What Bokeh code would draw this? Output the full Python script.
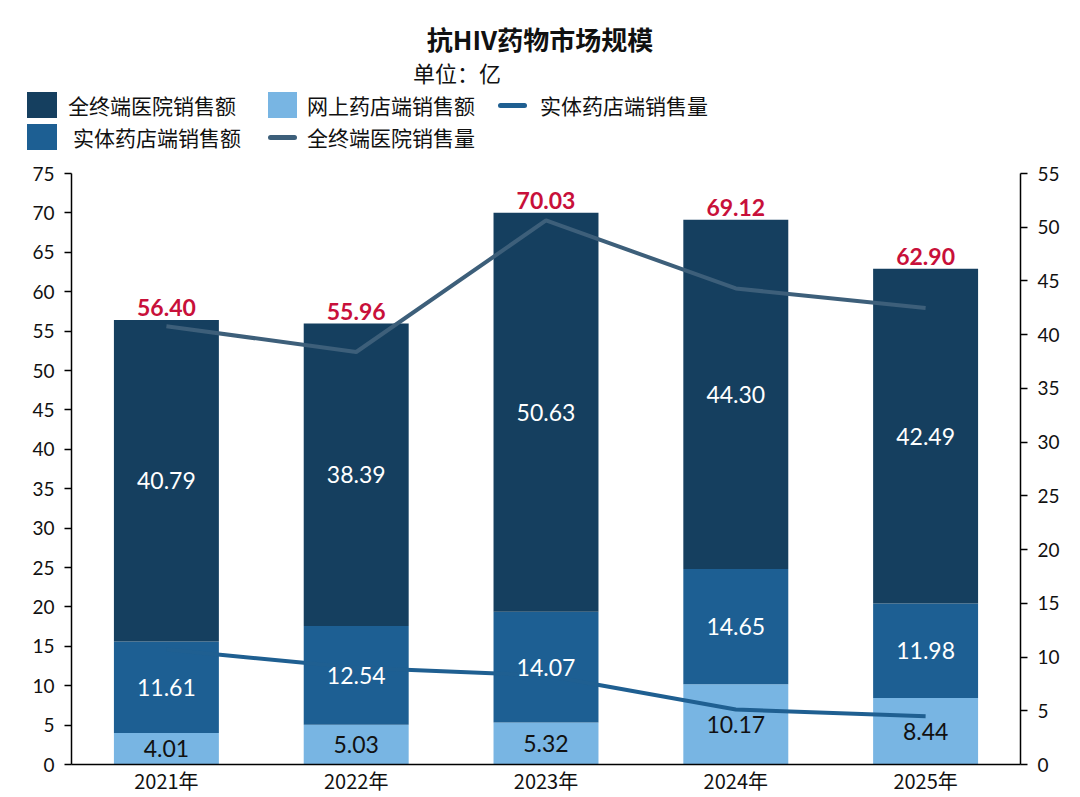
from bokeh.plotting import figure
from bokeh.layouts import column
from bokeh.models import (ColumnDataSource, Range1d, LinearAxis, FixedTicker, LabelSet,
                          FactorRange, Div)
from bokeh.core.properties import value
from bokeh.embed import file_html
from bokeh.resources import INLINE

# ---- data ----
years = ["2021年", "2022年", "2023年", "2024年", "2025年"]
online_sales = [4.01, 5.03, 5.32, 10.17, 8.44]        # 网上药店端销售额
retail_sales = [11.61, 12.54, 14.07, 14.65, 11.98]    # 实体药店端销售额
hospital_sales = [40.79, 38.39, 50.63, 44.30, 42.49]  # 全终端医院销售额
totals = [56.40, 55.96, 70.03, 69.12, 62.90]
retail_volume = [10.70, 9.00, 8.28, 5.12, 4.50]       # 实体药店端销售量 (right axis)
hospital_volume = [40.79, 38.39, 50.63, 44.30, 42.49] # 全终端医院销售量 (right axis)
left_ticks = list(range(0, 80, 5))
right_ticks = list(range(0, 60, 5))
title_text = "抗HIV药物市场规模"
subtitle_text = "单位：亿"
legend_labels = ["全终端医院销售额", "网上药店端销售额", "实体药店端销售量",
                 "实体药店端销售额", "全终端医院销售量"]

C_DARK = "#153F5F"
C_MID = "#1D5F93"
C_LIGHT = "#78B5E3"
C_LINE_RETAIL = "#1F5F91"
C_LINE_HOSP = "#3D5F7A"
C_TOTAL = "#C8103A"
CJK = "Noto Sans CJK SC"
NUM = "Lato"

W = 1080
HEAD_H = 161
MAIN_H = 636

# ---------------- header: titles + legend (HTML) ----------------
# legend layout: (kind, colour, glyph left, glyph right, row centre, text x)
legend_layout = [
    ("box", C_DARK, 27, 57, 105, 68),
    ("box", C_LIGHT, 268, 297, 105, 307),
    ("line", C_LINE_RETAIL, 498, 527, 105, 540),
    ("box", C_MID, 27, 57, 137, 73),
    ("line", C_LINE_HOSP, 268, 297, 137, 307),
]
parts = [
    f'<div style="position:relative;width:{W}px;height:{HEAD_H}px;'
    f"font-family:'{CJK}',sans-serif;color:#111111;\">",
    f'<div style="position:absolute;left:0;top:25px;width:{W}px;text-align:center;'
    f'font-size:26px;line-height:28px;font-weight:bold;white-space:nowrap;">{title_text}</div>',
    f'<div style="position:absolute;left:413px;top:61px;font-size:22px;line-height:23px;'
    f'white-space:nowrap;">{subtitle_text}</div>',
]
for (kind, col, x0, x1, yc, tx), lab in zip(legend_layout, legend_labels):
    if kind == "box":
        parts.append(f'<div style="position:absolute;left:{x0}px;top:{yc - 13}px;'
                     f'width:{x1 - x0}px;height:26px;background:{col};"></div>')
    else:
        parts.append(f'<div style="position:absolute;left:{x0}px;top:{yc - 2.5}px;'
                     f'width:{x1 - x0}px;height:5px;border-radius:2.5px;background:{col};"></div>')
    parts.append(f'<div style="position:absolute;left:{tx}px;top:{yc - 11}px;font-size:21px;'
                 f'line-height:22px;white-space:nowrap;">{lab}</div>')
parts.append("</div>")
head = Div(text="".join(parts), width=W, height=HEAD_H, margin=0)

# ---------------- main chart ----------------
mid_online = [v / 2 for v in online_sales]
mid_retail = [o + r / 2 for o, r in zip(online_sales, retail_sales)]
mid_hosp = [o + r + h / 2 for o, r, h in zip(online_sales, retail_sales, hospital_sales)]
top = [o + r + h for o, r, h in zip(online_sales, retail_sales, hospital_sales)]

src = ColumnDataSource(dict(
    year=years, online=online_sales, retail=retail_sales, hosp=hospital_sales,
    total_txt=[f"{v:.2f}" for v in totals], top=top,
    online_txt=[f"{v:.2f}" for v in online_sales],
    retail_txt=[f"{v:.2f}" for v in retail_sales],
    hosp_txt=[f"{v:.2f}" for v in hospital_sales],
    mid_online=mid_online, mid_retail=mid_retail, mid_hosp=mid_hosp,
    rvol=retail_volume, hvol=hospital_volume,
))

p = figure(x_range=FactorRange(factors=years, range_padding=0),
           y_range=Range1d(0, 75),
           width=W, height=MAIN_H, output_backend="svg", toolbar_location=None,
           min_border_left=71, min_border_right=60, min_border_top=12, min_border_bottom=33)
p.title = None
p.outline_line_color = None
p.xgrid.grid_line_color = None
p.ygrid.grid_line_color = None

p.extra_y_ranges = {"vol": Range1d(0, 55)}

bars = p.vbar_stack(["online", "retail", "hosp"], x="year", width=0.553,
                    color=[C_LIGHT, C_MID, C_DARK], line_color=None, source=src)

p.line(x="year", y="rvol", y_range_name="vol", line_width=4, color=C_LINE_RETAIL, source=src)
p.line(x="year", y="hvol", y_range_name="vol", line_width=4, color=C_LINE_HOSP, source=src)

lbl = dict(source=src, text_align="center", text_baseline="middle",
           text_font=value(NUM), text_font_size="23px")
p.add_layout(LabelSet(x="year", y="mid_online", text="online_txt", text_color="#111111", **lbl))
p.add_layout(LabelSet(x="year", y="mid_retail", text="retail_txt", text_color="white", **lbl))
p.add_layout(LabelSet(x="year", y="mid_hosp", text="hosp_txt", text_color="white", **lbl))
p.add_layout(LabelSet(x="year", y="top", text="total_txt", source=src,
                      text_align="center", text_baseline="bottom", text_color=C_TOTAL,
                      text_font=value(NUM), text_font_size="23px", text_font_style="bold",
                      y_offset=4))

ax_style = dict(axis_line_color="black", axis_line_width=1.5,
                major_tick_line_color="black", major_tick_line_width=1.5,
                major_tick_out=7, major_tick_in=0, minor_tick_line_color=None,
                major_label_text_font=NUM, major_label_text_font_size="19px",
                major_label_text_color="#111111", major_label_standoff=10)
p.yaxis.ticker = FixedTicker(ticks=left_ticks)
for k, v in ax_style.items():
    setattr(p.yaxis[0], k, v)

ra = LinearAxis(y_range_name="vol", ticker=FixedTicker(ticks=right_ticks))
for k, v in ax_style.items():
    setattr(ra, k, v)
p.add_layout(ra, "right")

xa = p.xaxis[0]
xa.axis_line_color = "black"
xa.axis_line_width = 1.5
xa.major_tick_line_color = None
xa.major_tick_out = 0
xa.minor_tick_line_color = None
xa.major_label_text_font = CJK
xa.major_label_text_font_size = "20px"
xa.major_label_text_color = "#111111"
xa.major_label_standoff = 1

layout = column(head, p, spacing=0)
open("out.html", "w").write(file_html(layout, INLINE))
